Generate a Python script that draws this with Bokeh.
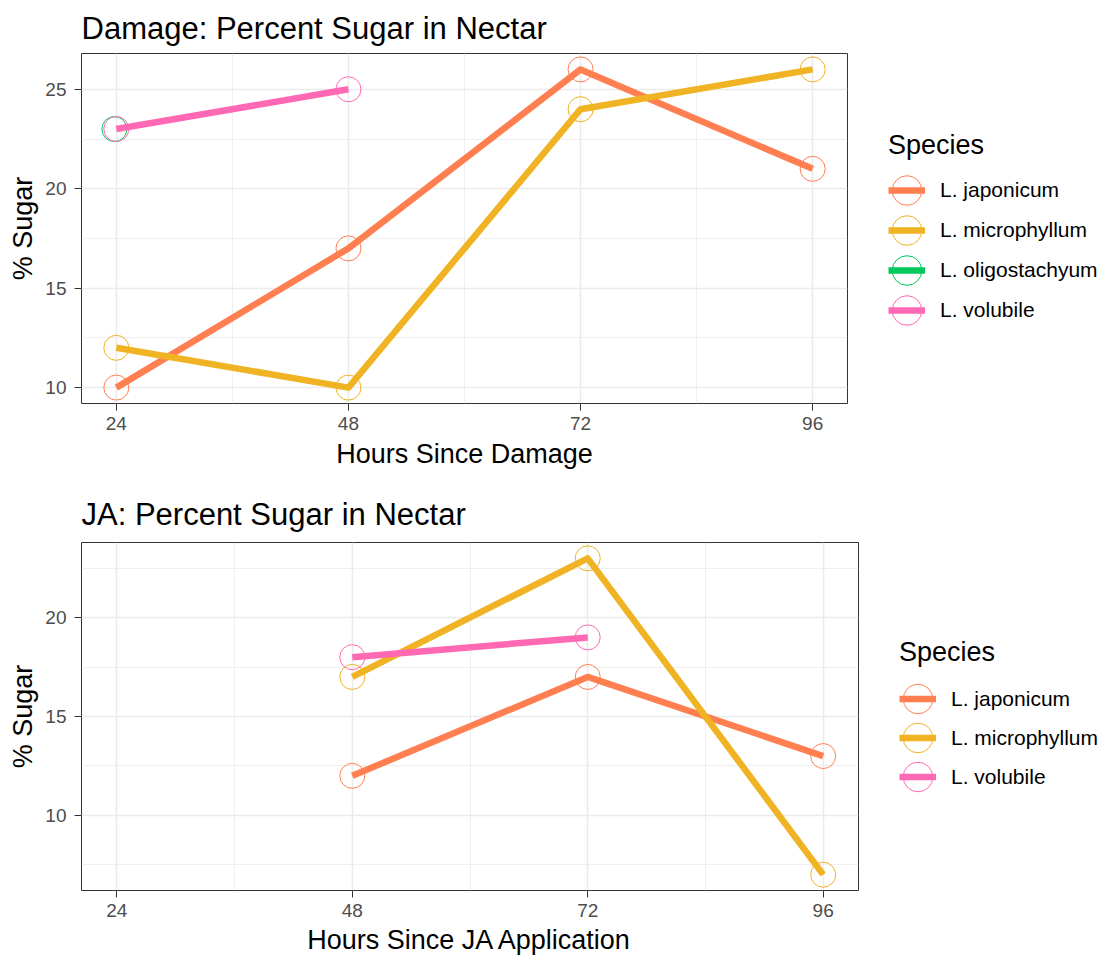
from bokeh.plotting import figure
from bokeh.models import (ColumnDataSource, FixedTicker, Legend, LegendItem,
                          Range1d)
from bokeh.layouts import column, row
from bokeh.embed import file_html
from bokeh.resources import INLINE
from bokeh.transform import dodge

# ---------------- data ----------------
species = ["L. japonicum", "L. microphyllum", "L. oligostachyum", "L. volubile"]
species_colors = ["#FF7F50", "#F0B323", "#00C85A", "#FF69B4"]

hour_ticks = [24, 48, 72, 96]

# Damage panel
damage_japonicum_hours = [24, 48, 72, 96]
damage_japonicum_sugar = [10, 17, 26, 21]
damage_microphyllum_hours = [24, 48, 72, 96]
damage_microphyllum_sugar = [12, 10, 24, 26]
damage_oligostachyum_hours = [24]
damage_oligostachyum_sugar = [23]
damage_volubile_hours = [24, 48]
damage_volubile_sugar = [23, 25]
damage_y_ticks = [10, 15, 20, 25]

# JA panel
ja_japonicum_hours = [48, 72, 96]
ja_japonicum_sugar = [12, 17, 13]
ja_microphyllum_hours = [48, 72, 96]
ja_microphyllum_sugar = [17, 23, 7]
ja_volubile_hours = [48, 72]
ja_volubile_sugar = [18, 19]
ja_y_ticks = [10, 15, 20]

FONT = "Liberation Sans"
LINE_W = 6.5
CIRCLE_D = 25


def add_series(p, name, xs, ys, shift_dup=False):
    c = species_colors[species.index(name)]
    src = ColumnDataSource(dict(x=xs, y=ys))
    xspec = dodge("x", -0.2) if shift_dup else "x"
    er = p.ellipse(x=xspec, y="y", width=CIRCLE_D, height=CIRCLE_D,
                   width_units="screen", height_units="screen",
                   fill_color=None, line_color=c, line_width=1, source=src)
    return er, src, c


def build_panel(title, xlabel, series, y_ticks, frame_w, frame_h,
                b_top, b_bottom, title_standoff, xlabel_standoff):
    all_y = [v for _, _, ys in series for v in ys]
    ylo, yhi = min(all_y), max(all_y)
    ypad = 0.05 * (yhi - ylo)
    xlo, xhi = min(hour_ticks), max(hour_ticks)
    xpad = 0.05 * (xhi - xlo)
    y0, y1 = ylo - ypad, yhi + ypad
    x0, x1 = xlo - xpad, xhi + xpad

    p = figure(frame_width=frame_w, frame_height=frame_h,
               x_range=Range1d(x0, x1), y_range=Range1d(y0, y1),
               output_backend="svg", toolbar_location=None,
               min_border_left=81, min_border_right=2,
               min_border_top=b_top, min_border_bottom=b_bottom,
               outline_line_color="#333333", outline_line_width=1,
               background_fill_color="white", border_fill_color="white")

    ystep = y_ticks[1] - y_ticks[0]
    y_minor = [t - ystep / 2 for t in y_ticks] + [y_ticks[-1] + ystep / 2]
    y_minor = [m for m in y_minor if y0 < m < y1]
    xstep = hour_ticks[1] - hour_ticks[0]
    x_minor = [t - xstep / 2 for t in hour_ticks] + [hour_ticks[-1] + xstep / 2]
    x_minor = [m for m in x_minor if x0 < m < x1]

    p.xaxis.ticker = FixedTicker(ticks=hour_ticks, minor_ticks=x_minor)
    p.yaxis.ticker = FixedTicker(ticks=y_ticks, minor_ticks=y_minor)

    for g in (p.xgrid[0], p.ygrid[0]):
        g.grid_line_color = "#EBEBEB"
        g.grid_line_width = 1.6
        g.minor_grid_line_color = "#EBEBEB"
        g.minor_grid_line_width = 0.8

    for ax in (p.xaxis[0], p.yaxis[0]):
        ax.axis_line_color = None
        ax.major_tick_line_color = "#333333"
        ax.major_tick_line_width = 1
        ax.major_tick_out = 7
        ax.major_tick_in = 0
        ax.minor_tick_line_color = None
        ax.major_label_text_font = FONT
        ax.major_label_text_font_size = "19px"
        ax.major_label_text_color = "#4D4D4D"
        ax.axis_label_text_font = FONT
        ax.axis_label_text_font_size = "27px"
        ax.axis_label_text_font_style = "normal"
        ax.axis_label_text_color = "black"
    p.xaxis[0].axis_label_standoff = xlabel_standoff
    p.yaxis[0].axis_label_standoff = 4
    p.xaxis[0].major_label_standoff = 6
    p.yaxis[0].major_label_standoff = 8
    p.xaxis[0].axis_label = xlabel
    p.yaxis[0].axis_label = "% Sugar"

    p.title.text = title
    p.title.text_font = FONT
    p.title.text_font_size = "31px"
    p.title.text_font_style = "normal"
    p.title.text_color = "black"
    p.title.align = "left"
    p.title.standoff = title_standoff

    # circles first (beneath), then lines on top
    drawn = []
    for name, xs, ys in series:
        drawn.append(add_series(p, name, xs, ys,
                                shift_dup=(name == "L. oligostachyum")))
    for er, src, c in drawn:
        p.line(x="x", y="y", source=src, line_color=c, line_width=LINE_W,
               line_join="round")
    return p


def build_legend(series, width, height, loc, row_h, title_standoff):
    # legend-only figure; its glyphs use the series data but its ranges
    # (0..1) keep them out of view, so only the legend is visible
    lf = figure(width=width, height=height, x_range=Range1d(0, 1),
                y_range=Range1d(0, 1), output_backend="svg",
                toolbar_location=None, x_axis_location=None,
                y_axis_location=None, min_border=0,
                outline_line_color=None, background_fill_color="white",
                border_fill_color="white")
    lf.grid.visible = False
    items = []
    for name, xs, ys in series:
        er, src, c = add_series(lf, name, xs, ys)
        lr = lf.line(x="x", y="y", source=src, line_color=c,
                     line_width=LINE_W)
        items.append(LegendItem(label=name, renderers=[er, lr]))
    leg = Legend(items=items, location=loc, title="Species",
                 glyph_width=37, glyph_height=row_h, spacing=0,
                 label_standoff=15, padding=4, margin=0,
                 label_text_font=FONT, label_text_font_size="21px",
                 label_text_color="black",
                 title_text_font=FONT, title_text_font_size="27px",
                 title_text_font_style="normal", title_text_color="black",
                 title_standoff=title_standoff,
                 border_line_color=None, background_fill_alpha=0)
    lf.add_layout(leg)
    return lf


damage_series = [
    ("L. japonicum", damage_japonicum_hours, damage_japonicum_sugar),
    ("L. microphyllum", damage_microphyllum_hours, damage_microphyllum_sugar),
    ("L. oligostachyum", damage_oligostachyum_hours, damage_oligostachyum_sugar),
    ("L. volubile", damage_volubile_hours, damage_volubile_sugar),
]
ja_series = [
    ("L. japonicum", ja_japonicum_hours, ja_japonicum_sugar),
    ("L. microphyllum", ja_microphyllum_hours, ja_microphyllum_sugar),
    ("L. volubile", ja_volubile_hours, ja_volubile_sugar),
]

p1 = build_panel("Damage: Percent Sugar in Nectar", "Hours Since Damage",
                 damage_series, damage_y_ticks, 766, 350, 53, 75, 16, 6)
p2 = build_panel("JA: Percent Sugar in Nectar", "Hours Since JA Application",
                 ja_series, ja_y_ticks, 777, 348, 64, 68, 21, 5)

l1 = build_legend(damage_series, 256, 478, (39, 73), 40, 9)
l2 = build_legend(ja_series, 245, 483, (39, 97), 39, 11)

layout = column(row(p1, l1, spacing=0), row(p2, l2, spacing=0), spacing=0)
open("out.html", "w").write(file_html(layout, INLINE))
